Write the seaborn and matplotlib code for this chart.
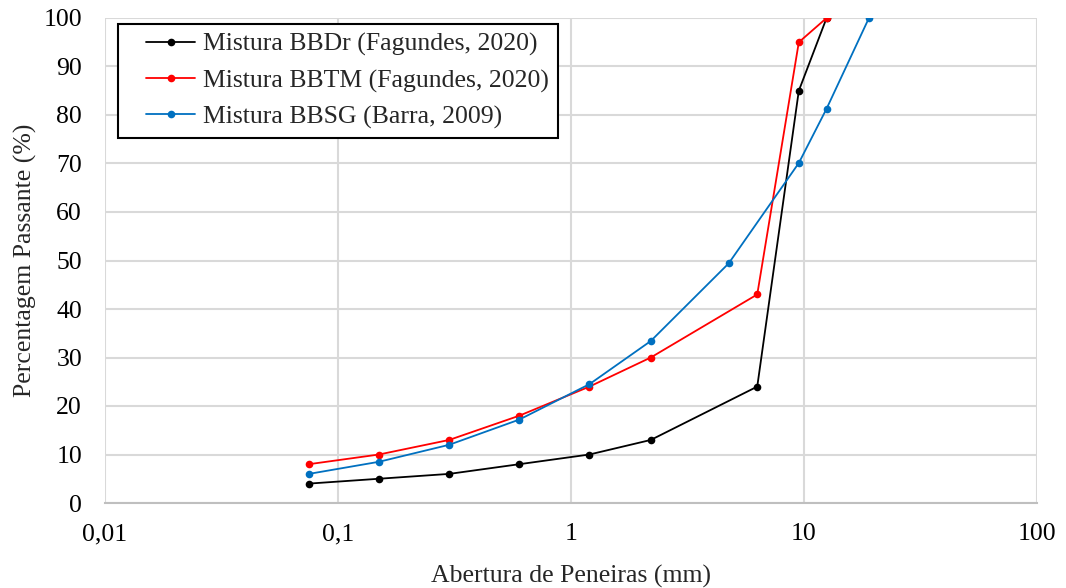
import numpy as np
import pandas as pd
import matplotlib
matplotlib.use("Agg")
import matplotlib.pyplot as plt
import seaborn as sns
from matplotlib.ticker import FixedLocator, FixedFormatter, NullLocator
from matplotlib.legend_handler import HandlerLine2D
from matplotlib.lines import Line2D

# Data
bbdr_x = [0.075, 0.15, 0.3, 0.6, 1.2, 2.2, 6.3, 9.5, 12.5]
bbdr_y = [4, 5, 6, 8, 10, 13, 24, 85, 100]
bbtm_x = [0.075, 0.15, 0.3, 0.6, 1.2, 2.2, 6.3, 9.5, 12.5]
bbtm_y = [8, 10, 13, 18, 24, 30, 43, 95, 100]
bbsg_x = [0.075, 0.15, 0.3, 0.6, 1.2, 2.2, 4.75, 9.5, 12.5, 19]
bbsg_y = [6, 8.5, 12, 17.2, 24.5, 33.4, 49.4, 70.1, 81.3, 100]
names = ["Mistura BBDr (Fagundes, 2020)",
         "Mistura BBTM (Fagundes, 2020)",
         "Mistura BBSG (Barra, 2009)"]
colors = ["#000000", "#FF0000", "#0070C0"]
x_ticks = [0.01, 0.1, 1, 10, 100]
x_ticklabels = ["0,01", "0,1", "1", "10", "100"]
y_ticks = list(range(0, 101, 10))

frames = []
for nm, xs, ys in zip(names, [bbdr_x, bbtm_x, bbsg_x], [bbdr_y, bbtm_y, bbsg_y]):
    frames.append(pd.DataFrame({"x": xs, "y": ys, "serie": nm}))
df = pd.concat(frames, ignore_index=True)

sns.set_theme(style="white")
plt.rcParams['font.family'] = ['Liberation Serif', 'DejaVu Serif']
FS = 18.5

fig = plt.figure(figsize=(10.66, 5.88), dpi=100)
ax = fig.add_axes([105/1066, 1-503/588, (1037-105)/1066, (503-18)/588])

sns.lineplot(data=df, x="x", y="y", hue="serie", palette=dict(zip(names, colors)),
             marker="o", markersize=5.5, markeredgewidth=0, linewidth=1.3,
             sort=False, ax=ax, legend=True)

ax.set_xscale("log")
ax.set_xlim(0.01, 100)
ax.set_ylim(0, 100)
ax.xaxis.set_major_locator(FixedLocator(x_ticks))
ax.xaxis.set_major_formatter(FixedFormatter(x_ticklabels))
ax.xaxis.set_minor_locator(NullLocator())
ax.set_yticks(y_ticks)
ax.grid(True, color="#D9D9D9", linewidth=1.5)
ax.set_axisbelow(True)
for s in ["top", "right", "left"]:
    ax.spines[s].set_visible(False)
ax.spines["bottom"].set_color("#BFBFBF")
ax.spines["bottom"].set_linewidth(1.5)
ax.tick_params(axis="both", length=0, labelsize=FS, colors="black")
ax.tick_params(axis="y", pad=16.5)
ax.tick_params(axis="x", pad=14.5)
ax.set_xlabel("Abertura de Peneiras (mm)", fontsize=FS, labelpad=14)
ax.set_ylabel("Percentagem Passante (%)", fontsize=FS, labelpad=4.5)


class ShortHandler(HandlerLine2D):
    def create_artists(self, legend, orig_handle, xdescent, ydescent, width,
                       height, fontsize, trans):
        shift = 0.75 * fontsize
        return super().create_artists(legend, orig_handle, xdescent - shift,
                                      ydescent, width - shift, height,
                                      fontsize, trans)


handles, labels = ax.get_legend_handles_labels()
leg = ax.legend(handles, labels, loc="upper left", bbox_to_anchor=(13/932, 1-6/485),
                borderaxespad=0, fontsize=FS,
                frameon=True, fancybox=False, edgecolor="black", framealpha=1,
                borderpad=0.35, handlelength=2.65, labelspacing=0.5, handletextpad=0.3,
                handler_map={Line2D: ShortHandler()})
leg.get_frame().set_linewidth(1.5)

fig.savefig("out.png", dpi=100)
